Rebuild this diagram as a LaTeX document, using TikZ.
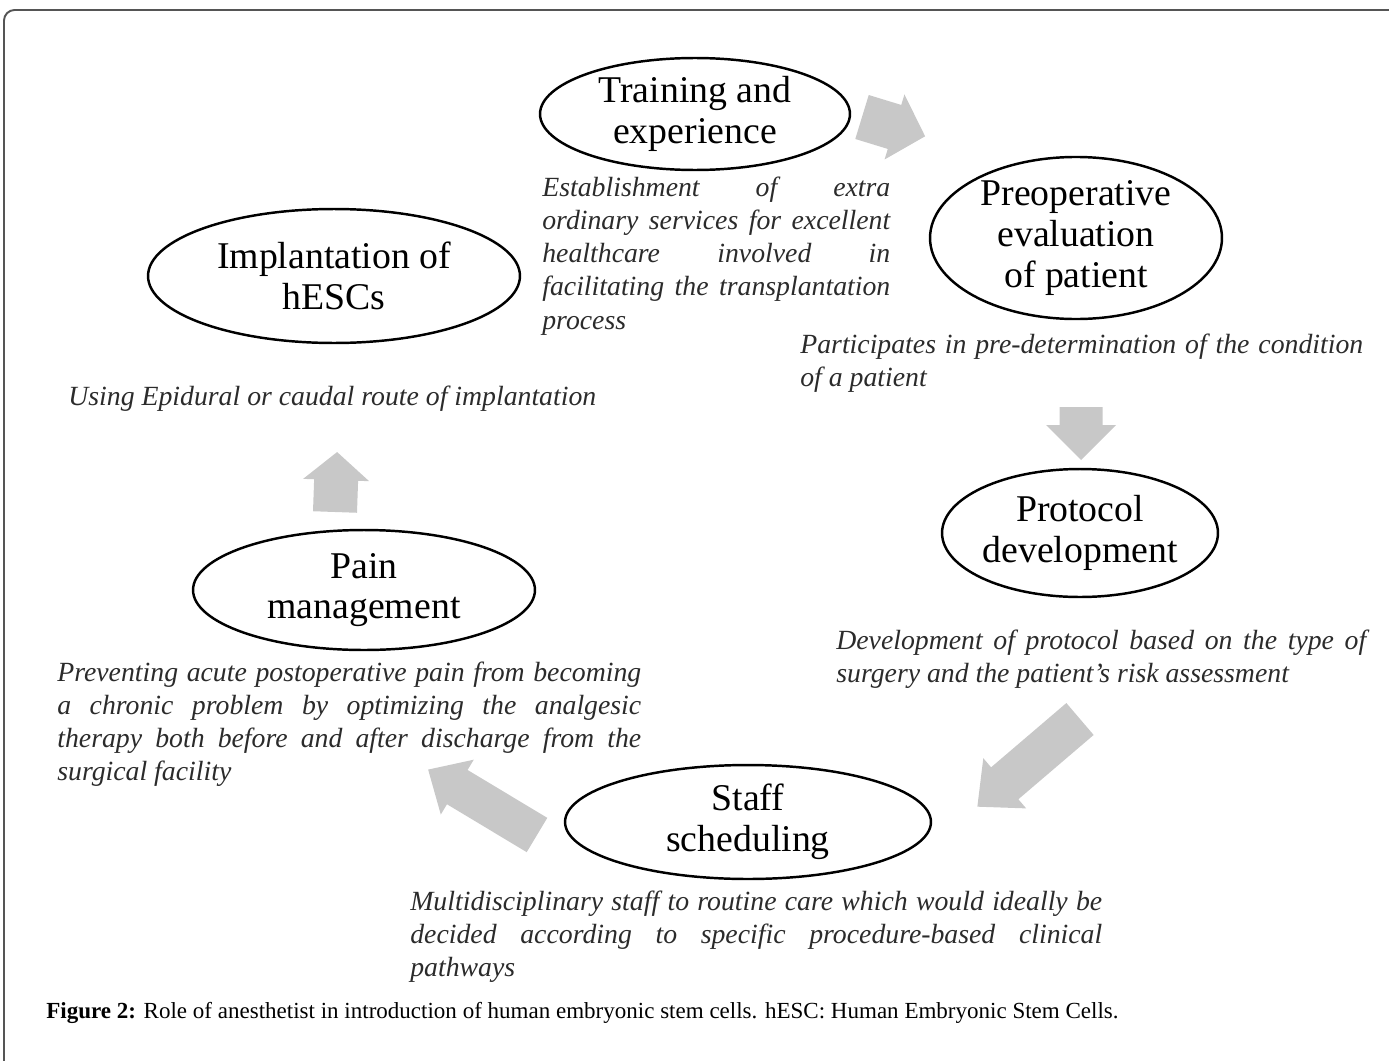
\documentclass[tikz,border=0pt]{standalone}
\usepackage{fontspec}
\setmainfont{Liberation Serif}
\usetikzlibrary{shapes.geometric}

\definecolor{arrowgray}{HTML}{C8C8C8}
\definecolor{framegray}{HTML}{555555}
\definecolor{textdark}{HTML}{2B2B2B}

% one justified line of a note
\newcommand{\jline}[2]{\makebox[#1][s]{#2}}

\begin{document}
\begin{tikzpicture}[x=0.02cm, y=0.02cm,
    stage/.style={ellipse, draw, line width=1.4pt, inner sep=0pt, align=center,
        font=\fontsize{21.5}{23.2}\selectfont},
    note/.style={anchor=north west, inner sep=0pt, align=left, text=textdark,
        font=\fontsize{15.8}{18.8}\selectfont\itshape},
    pics/blockarrow/.style n args={4}{code={
        \fill[arrowgray] (0,-#2) -- (#1-#4,-#2) -- (#1-#4,-#3) -- (#1,0)
            -- (#1-#4,#3) -- (#1-#4,#2) -- (0,#2) -- cycle;
    }}]
    \useasboundingbox (0,0) rectangle (1389,-1061);

    % Frame
    \draw[framegray, line width=1.1pt, rounded corners=6pt] (4,-1070) -- (4,-10) -- (1400,-10);

    % Stages
    \node[stage, minimum width=6.2cm, minimum height=2.24cm] (train) at (695,-114) {Training and\\experience};
    \node[stage, minimum width=5.84cm, minimum height=2.8cm] (preop) at (1076,-238) {Preoperative\\evaluation\\of patient};
    \node[stage, minimum width=7.44cm, minimum height=2.68cm] (implant) at (334,-276) {Implantation of\\hESCs};
    \node[stage, minimum width=5.32cm, minimum height=2.56cm] (protocol) at (1080,-533) {Protocol\\development};
    \node[stage, minimum width=6.84cm, minimum height=2.4cm] (pain) at (364,-590) {Pain\\management};
    \node[stage, minimum width=7.32cm, minimum height=2.28cm] (staff) at (748,-822) {Staff\\scheduling};

    % Notes
    \node[note] (trainnote) at (542,-177) {\jline{6.96cm}{Establishment of extra}\\
        \jline{6.96cm}{ordinary services for excellent}\\
        \jline{6.96cm}{healthcare involved in}\\
        \jline{6.96cm}{facilitating the transplantation}\\
        process};
    \node[note] (preopnote) at (800,-334) {\jline{11.26cm}{Participates in pre-determination of the condition}\\
        of a patient};
    \node[note] (implantnote) at (68,-386) {Using Epidural or caudal route of implantation};
    \node[note] (protocolnote) at (836,-630) {\jline{10.6cm}{Development of protocol based on the type of}\\
        surgery and the patient’s risk assessment};
    \node[note] (painnote) at (57,-662) {\jline{11.68cm}{Preventing acute postoperative pain from becoming}\\
        \jline{11.68cm}{a chronic problem by optimizing the analgesic}\\
        \jline{11.68cm}{therapy both before and after discharge from the}\\
        surgical facility};
    \node[note] (staffnote) at (410,-891) {\jline{13.84cm}{Multidisciplinary staff to routine care which would ideally be}\\
        \jline{13.84cm}{decided according to specific procedure-based clinical}\\
        pathways};

    % Block arrows
    \path (862,-117) pic[rotate=-17] {blockarrow={66}{23}{34}{32}};
    \path (1081,-407) pic[rotate=-90] {blockarrow={53}{21.5}{35}{35}};
    \path (1080,-719) pic[rotate=220.5] {blockarrow={135}{21}{33}{36}};
    \path (537,-835) pic[rotate=149] {blockarrow={127}{20}{32}{34}};
    \path (335,-512) pic[rotate=88] {blockarrow={60}{22}{33}{28}};

    % Caption
    \node[anchor=west, inner sep=0pt, font=\fontsize{13.1}{15}\selectfont] (caption) at (46,-1013)
        {\textbf{Figure 2:} Role of anesthetist in introduction of human embryonic stem cells. hESC: Human Embryonic Stem Cells.};
\end{tikzpicture}
\end{document}
